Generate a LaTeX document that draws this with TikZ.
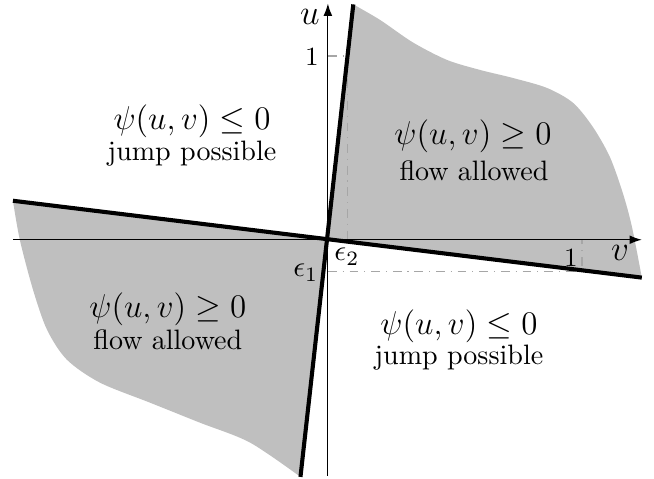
\documentclass[tikz,border=0pt]{standalone}
\usepackage{amsmath,amssymb}
\usepackage{graphicx}
\usepackage{tikz}
\usetikzlibrary{arrows.meta}
\tikzstyle{every picture}=[> = {Latex[length=4.2pt,width=3pt]}]
\tikzstyle{region}=[fill=lightgray]
\tikzstyle{boundary}=[line width=1.4pt]
\tikzstyle{guide}=[gray!70, dash dot, line width=0.5pt]
\tikzstyle{sign}=[anchor=base, inner sep=0pt]
\tikzstyle{mode}=[anchor=base, inner sep=0pt, font=\fontsize{9.6}{11}\selectfont]
\newcommand{\signlabel}[1]{\scalebox{0.94}{\large $#1$}}

\begin{document}
\begin{tikzpicture}[x=86.9pt,y=62.9pt]
    \useasboundingbox (-1.291,-1.299) rectangle (1.284,1.304);
    \coordinate (origin) at (0,0);
    \coordinate (top) at (0.100,1.28);
    \coordinate (bottom) at (-0.108,-1.29);
    \coordinate (left) at (-1.24,0.212);
    \coordinate (right) at (1.236,-0.206);
    \coordinate (eps2) at (0.078,1);
    \coordinate (eps1) at (1,-0.172);
    % shaded regions
    \fill[region] (origin) -- (top) -- plot[smooth] coordinates {(0.100,1.28) (0.205,1.196) (0.335,1.073) (0.469,0.978) (0.598,0.924) (0.728,0.880) (0.862,0.826) (0.965,0.745) (1.043,0.614) (1.110,0.451) (1.161,0.255) (1.197,0.071) (1.236,-0.206)} -- cycle;
    \fill[region] (origin) -- (bottom) -- plot[smooth] coordinates {(-0.108,-1.29) (-0.307,-1.103) (-0.504,-0.995) (-0.701,-0.886) (-0.898,-0.777) (-1.028,-0.652) (-1.106,-0.489) (-1.161,-0.272) (-1.213,0) (-1.24,0.212)} -- cycle;
    % guides
    \draw[guide] (0,1) -- (eps2) -- (0.078,0);
    \draw[guide] (0,-0.172) -- (eps1) -- (1,0);
    % axes
    \coordinate (vstart) at (-1.24,0);
    \coordinate (vend) at (1.236,0);
    \coordinate (ustart) at (0,-1.283);
    \coordinate (uend) at (0,1.285);
    \draw[->] (vstart) -- (vend);
    \draw[->] (ustart) -- (uend);
    \node[inner sep=0pt] (vlabel) at (1.15,-0.07) {\large $v$};
    \node[inner sep=0pt] (ulabel) at (-0.071,1.21) {\large $u$};
    \node[inner sep=0pt] (vone) at (0.957,-0.098) {\small $1$};
    \node[inner sep=0pt] (uone) at (-0.063,0.995) {\small $1$};
    \node[inner sep=0pt] (epsone) at (-0.087,-0.179) {$\epsilon_1$};
    \node[inner sep=0pt] (epstwo) at (0.075,-0.092) {$\epsilon_2$};
    % switching lines
    \draw[boundary] (left) -- (right);
    \draw[boundary] (bottom) -- (top);
    % region labels
    \node[sign] (ulsign) at (-0.535,0.598) {\signlabel{\psi(u,v) \leq 0}};
    \node[mode] (ultext) at (-0.535,0.429) {jump possible};
    \node[sign] (ursign) at (0.571,0.516) {\signlabel{\psi(u,v) \geq 0}};
    \node[mode] (urtext) at (0.575,0.323) {flow allowed};
    \node[sign] (llsign) at (-0.630,-0.424) {\signlabel{\psi(u,v) \geq 0}};
    \node[mode] (lltext) at (-0.630,-0.598) {flow allowed};
    \node[sign] (lrsign) at (0.516,-0.516) {\signlabel{\psi(u,v) \leq 0}};
    \node[mode] (lrtext) at (0.516,-0.679) {jump possible};
\end{tikzpicture}
\end{document}
